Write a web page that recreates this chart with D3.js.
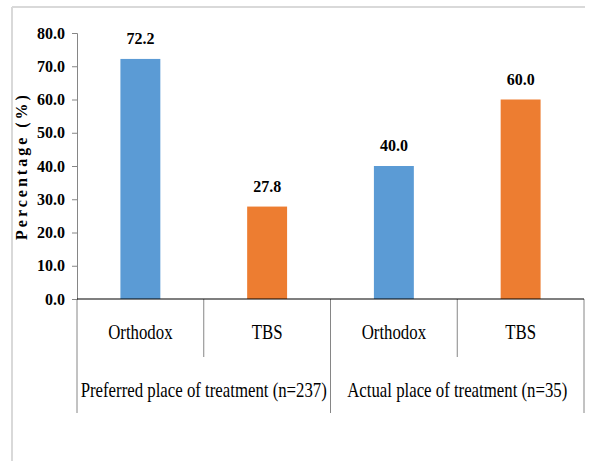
<!DOCTYPE html>
<html>
<head>
<meta charset="utf-8">
<script src="https://cdn.jsdelivr.net/npm/d3@7"></script>
<style>
  html, body { margin: 0; padding: 0; background: #fff; }
  svg { display: block; }
</style>
</head>
<body>
<svg id="chart" width="594" height="461"></svg>
<script>
// Place of treatment: preferred vs actual
const groups = ["Preferred place of treatment (n=237)", "Actual place of treatment (n=35)"];
const places = ["Orthodox", "TBS"];
const percentages = [72.2, 27.8, 40.0, 60.0];
const yTicks = [0, 10, 20, 30, 40, 50, 60, 70, 80];
const placeColors = ["#5B9BD5", "#ED7D31"];
const serif = "'Liberation Serif', 'DejaVu Serif', serif";

const rows = [];
groups.forEach((g, gi) => places.forEach((p, pi) => {
  rows.push({ key: gi + "|" + p, group: g, place: p, pi, value: percentages[gi * places.length + pi] });
}));

const svg = d3.select("#chart").style("font-family", serif);
const plotLeft = 77, plotRight = 584, plotTop = 33, plotBottom = 299;

// outer frame (top and left edges)
svg.append("line").attr("x1", 12).attr("x2", 585).attr("y1", 7).attr("y2", 7)
  .attr("stroke", "#d9d9d9").attr("stroke-width", 2);
svg.append("line").attr("x1", 12).attr("x2", 12).attr("y1", 7).attr("y2", 461)
  .attr("stroke", "#d9d9d9").attr("stroke-width", 2);

const x = d3.scaleBand().domain(rows.map(d => d.key)).range([plotLeft, plotRight])
  .paddingInner(0.685).paddingOuter(0.3425);
const y = d3.scaleLinear().domain([0, 80]).range([plotBottom, plotTop]);

// y axis
const yAxis = svg.append("g").attr("transform", `translate(${plotLeft},0)`)
  .call(d3.axisLeft(y).tickValues(yTicks).tickFormat(d3.format(".1f")).tickSizeOuter(0).tickSize(5).tickPadding(7));
yAxis.attr("font-family", null);
yAxis.select(".domain").attr("stroke", "#868686");
yAxis.selectAll(".tick line").attr("stroke", "#868686");
yAxis.selectAll(".tick text")
  .style("font-family", serif)
  .attr("font-size", 16).attr("font-weight", "bold").attr("fill", "#000");

// y axis title
svg.append("text")
  .attr("transform", `translate(27,166) rotate(-90)`)
  .attr("text-anchor", "middle")
  .style("font-family", serif)
  .attr("font-size", 16).attr("font-weight", "bold")
  .attr("letter-spacing", 3)
  .text("Percentage (%)");

// bars
svg.append("g").selectAll("rect").data(rows).join("rect")
  .attr("x", d => x(d.key))
  .attr("width", x.bandwidth())
  .attr("y", d => y(d.value))
  .attr("height", d => y(0) - y(d.value))
  .attr("fill", d => placeColors[d.pi]);

// value labels
svg.append("g").selectAll("text").data(rows).join("text")
  .attr("x", d => x(d.key) + x.bandwidth() / 2)
  .attr("y", d => y(d.value) - 15)
  .attr("text-anchor", "middle")
  .style("font-family", serif)
  .attr("font-size", 16).attr("font-weight", "bold")
  .text(d => d.value.toFixed(1));

// category separators: long lines between groups, short lines within a group
const step = x.step();
d3.range(rows.length + 1).forEach(i => {
  const xx = plotLeft + i * step;
  svg.append("line").attr("x1", xx).attr("x2", xx).attr("y1", plotBottom)
    .attr("y2", i % places.length === 0 ? 413 : 357)
    .attr("stroke", "#868686").attr("stroke-width", 1);
});

// baseline at zero
svg.append("line").attr("x1", plotLeft).attr("x2", plotRight).attr("y1", y(0)).attr("y2", y(0))
  .attr("stroke", "#000").attr("stroke-width", 1.2);

// place labels
svg.append("g").selectAll("text").data(rows).join("text")
  .attr("transform", d => `translate(${x(d.key) + x.bandwidth() / 2},339) scale(0.8,1)`)
  .attr("text-anchor", "middle")
  .style("font-family", serif)
  .attr("font-size", 21)
  .text(d => d.place);

// group labels
svg.append("g").selectAll("text").data(groups).join("text")
  .attr("transform", (d, i) => `translate(${plotLeft + (i * places.length + places.length / 2) * step},397) scale(0.8,1)`)
  .attr("text-anchor", "middle")
  .style("font-family", serif)
  .attr("font-size", 21)
  .text(d => d);
</script>
</body>
</html>
